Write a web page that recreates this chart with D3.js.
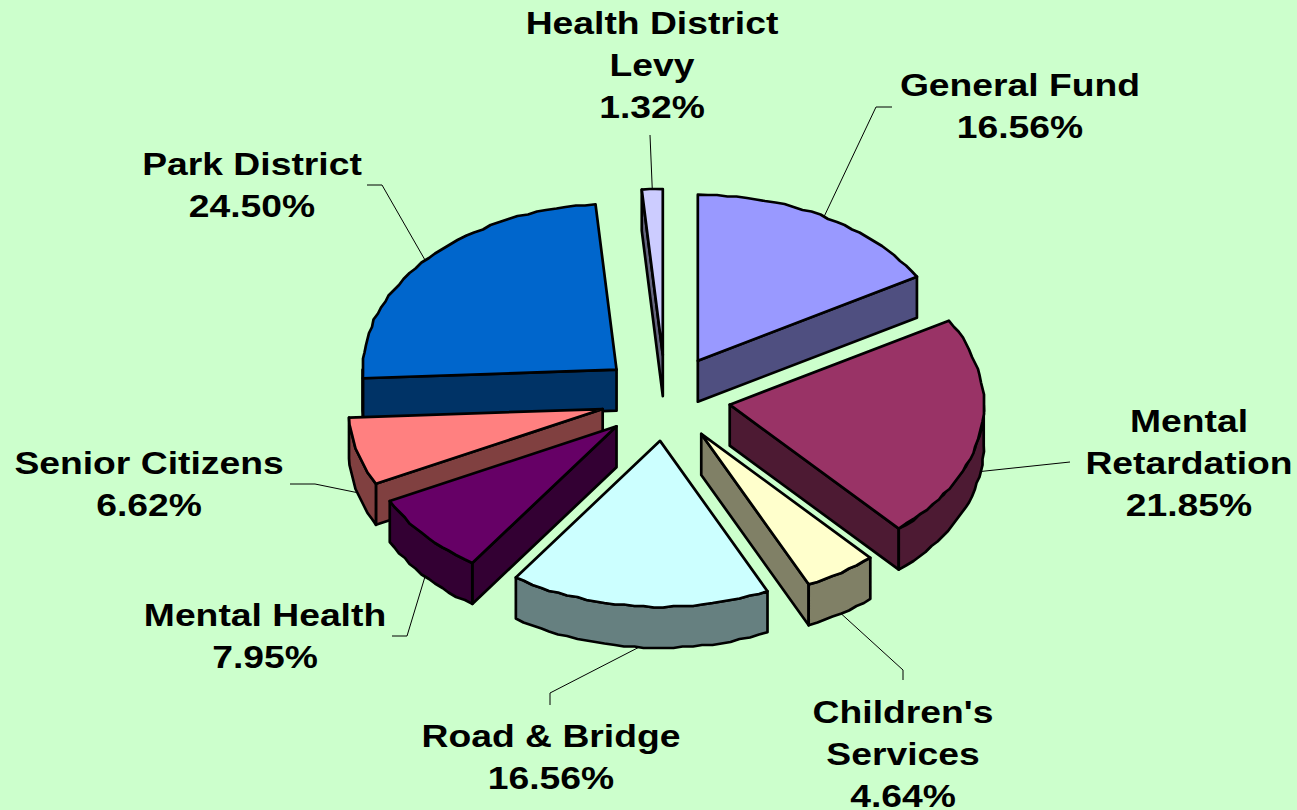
<!DOCTYPE html>
<html>
<head>
<meta charset="utf-8">
<script src="https://cdn.jsdelivr.net/npm/d3@7"></script>
<style>
html, body { margin: 0; padding: 0; background: #CCFFCC; overflow: hidden; }
text { font-family: "Liberation Sans", Arial, sans-serif; font-weight: bold; fill: #000; }
</style>
</head>
<body>
<div id="chart"></div>
<script>
var categories = ['General Fund', 'Mental Retardation', "Children's Services", 'Road & Bridge',
  'Mental Health', 'Senior Citizens', 'Park District', 'Health District Levy'];
var shares = [16.56, 21.85, 4.64, 16.56, 7.95, 6.62, 24.50, 1.32];
var topColors = ['#9999FF', '#993366', '#FFFFCC', '#CCFFFF', '#660066', '#FF8080', '#0066CC', '#CCCCFF'];
var sideColors = ['#4F4F80', '#4D1A33', '#808066', '#668080', '#330033', '#804040', '#003366', '#666680'];

// label layout, same order as categories
var labelLines = [['General Fund'], ['Mental', 'Retardation'], ["Children's", 'Services'], ['Road & Bridge'],
  ['Mental Health'], ['Senior Citizens'], ['Park District'], ['Health District', 'Levy']];
var labelCx = [1020, 1189, 903, 551, 265, 149, 252, 652];
var labelTop = [96, 432, 723, 747, 626, 474, 175, 34];
var elbows = [[[876, 107], [892, 107]], [[1070, 462]], [[903, 670], [903, 680]], [[550, 693], [550, 705]],
  [[407, 636], [392, 636]], [[315, 484], [290, 484]], [[382, 185], [367, 185]], [[650, 135]]];

var settings = {
  width: 1297,
  height: 810,
  cx: 665.5,
  cy: 398,
  rx: 254,
  ry: 166,
  explodeX: 65,
  explodeY: 43,
  depth: 41,
  fontSize: 32,
  textStretch: 1.165,
  lineHeight: 42,
  grain: 1.5
};

var pieData = d3.pie().sort(null).value(function(d) { return d; })(shares);

var svg = d3.select('#chart').append('svg')
  .attr('width', settings.width)
  .attr('height', settings.height);

svg.append('rect')
  .attr('width', settings.width)
  .attr('height', settings.height)
  .attr('fill', '#CCFFCC');

var apex = function(d) {
  var mid = (d.startAngle + d.endAngle) / 2;
  return [settings.cx + settings.explodeX * Math.sin(mid), settings.cy - settings.explodeY * Math.cos(mid)];
};

var rim = function(d, a, drop) {
  var p = apex(d);
  return [p[0] + settings.rx * Math.sin(a), p[1] - settings.ry * Math.cos(a) + (drop || 0)];
};

// the original rim is rough, so inner points snap to a coarse grid
var snap = function(v) { return Math.round(v / settings.grain) * settings.grain; };

var arcPoints = function(d, a0, a1, drop) {
  var n = Math.max(2, Math.ceil((a1 - a0) / 0.04));
  return d3.range(n + 1).map(function(i) {
    var pt = rim(d, a0 + (a1 - a0) * i / n, drop);
    return (i === 0 || i === n) ? pt : [snap(pt[0]), snap(pt[1])];
  });
};

var line = d3.line();

// back slices first
var order = d3.range(pieData.length).sort(function(a, b) {
  var ma = (pieData[a].startAngle + pieData[a].endAngle) / 2;
  var mb = (pieData[b].startAngle + pieData[b].endAngle) / 2;
  return Math.cos(mb) - Math.cos(ma);
});

var drawPoly = function(g, pts, color) {
  g.append('path')
    .attr('d', line(pts) + 'Z')
    .attr('fill', color)
    .attr('stroke', '#000')
    .attr('stroke-width', 2.7)
    .attr('stroke-linejoin', 'round');
};

order.forEach(function(i) {
  var d = pieData[i];
  var g = svg.append('g').attr('class', 'slice');
  var p = apex(d);
  var wall = function(a) {
    var r = rim(d, a);
    drawPoly(g, [p, r, [r[0], r[1] + settings.depth], [p[0], p[1] + settings.depth]], sideColors[i]);
  };

  if (d.startAngle > Math.PI) { wall(d.startAngle); }
  if (Math.sin(d.endAngle) > 0) { wall(d.endAngle); }

  // outer wall only where the rim faces the viewer
  var a0 = Math.max(d.startAngle, Math.PI / 2);
  var a1 = Math.min(d.endAngle, Math.PI * 1.5);
  if (a1 > a0) {
    var upper = arcPoints(d, a0, a1, 0);
    var lower = arcPoints(d, a0, a1, settings.depth).reverse();
    drawPoly(g, upper.concat(lower), sideColors[i]);
  }

  drawPoly(g, [p].concat(arcPoints(d, d.startAngle, d.endAngle, 0)), topColors[i]);
});

// leader lines start on the rim at the middle of each slice
pieData.forEach(function(d, i) {
  var mid = (d.startAngle + d.endAngle) / 2;
  var start = rim(d, mid, Math.cos(mid) < 0 ? settings.depth : 0);
  svg.append('path')
    .attr('d', line([start].concat(elbows[i])))
    .attr('fill', 'none')
    .attr('stroke', '#000')
    .attr('stroke-width', 1);
});

categories.forEach(function(name, i) {
  var lines = labelLines[i].concat([d3.format('.2f')(shares[i]) + '%']);
  var text = svg.append('text')
    .attr('class', 'label')
    .attr('text-anchor', 'middle')
    .attr('font-size', settings.fontSize)
    .attr('transform', 'translate(' + labelCx[i] + ',0) scale(' + settings.textStretch + ',1)');
  lines.forEach(function(t, j) {
    text.append('tspan')
      .attr('x', 0)
      .attr('y', labelTop[i] + j * settings.lineHeight)
      .text(t);
  });
});
</script>
</body>
</html>
